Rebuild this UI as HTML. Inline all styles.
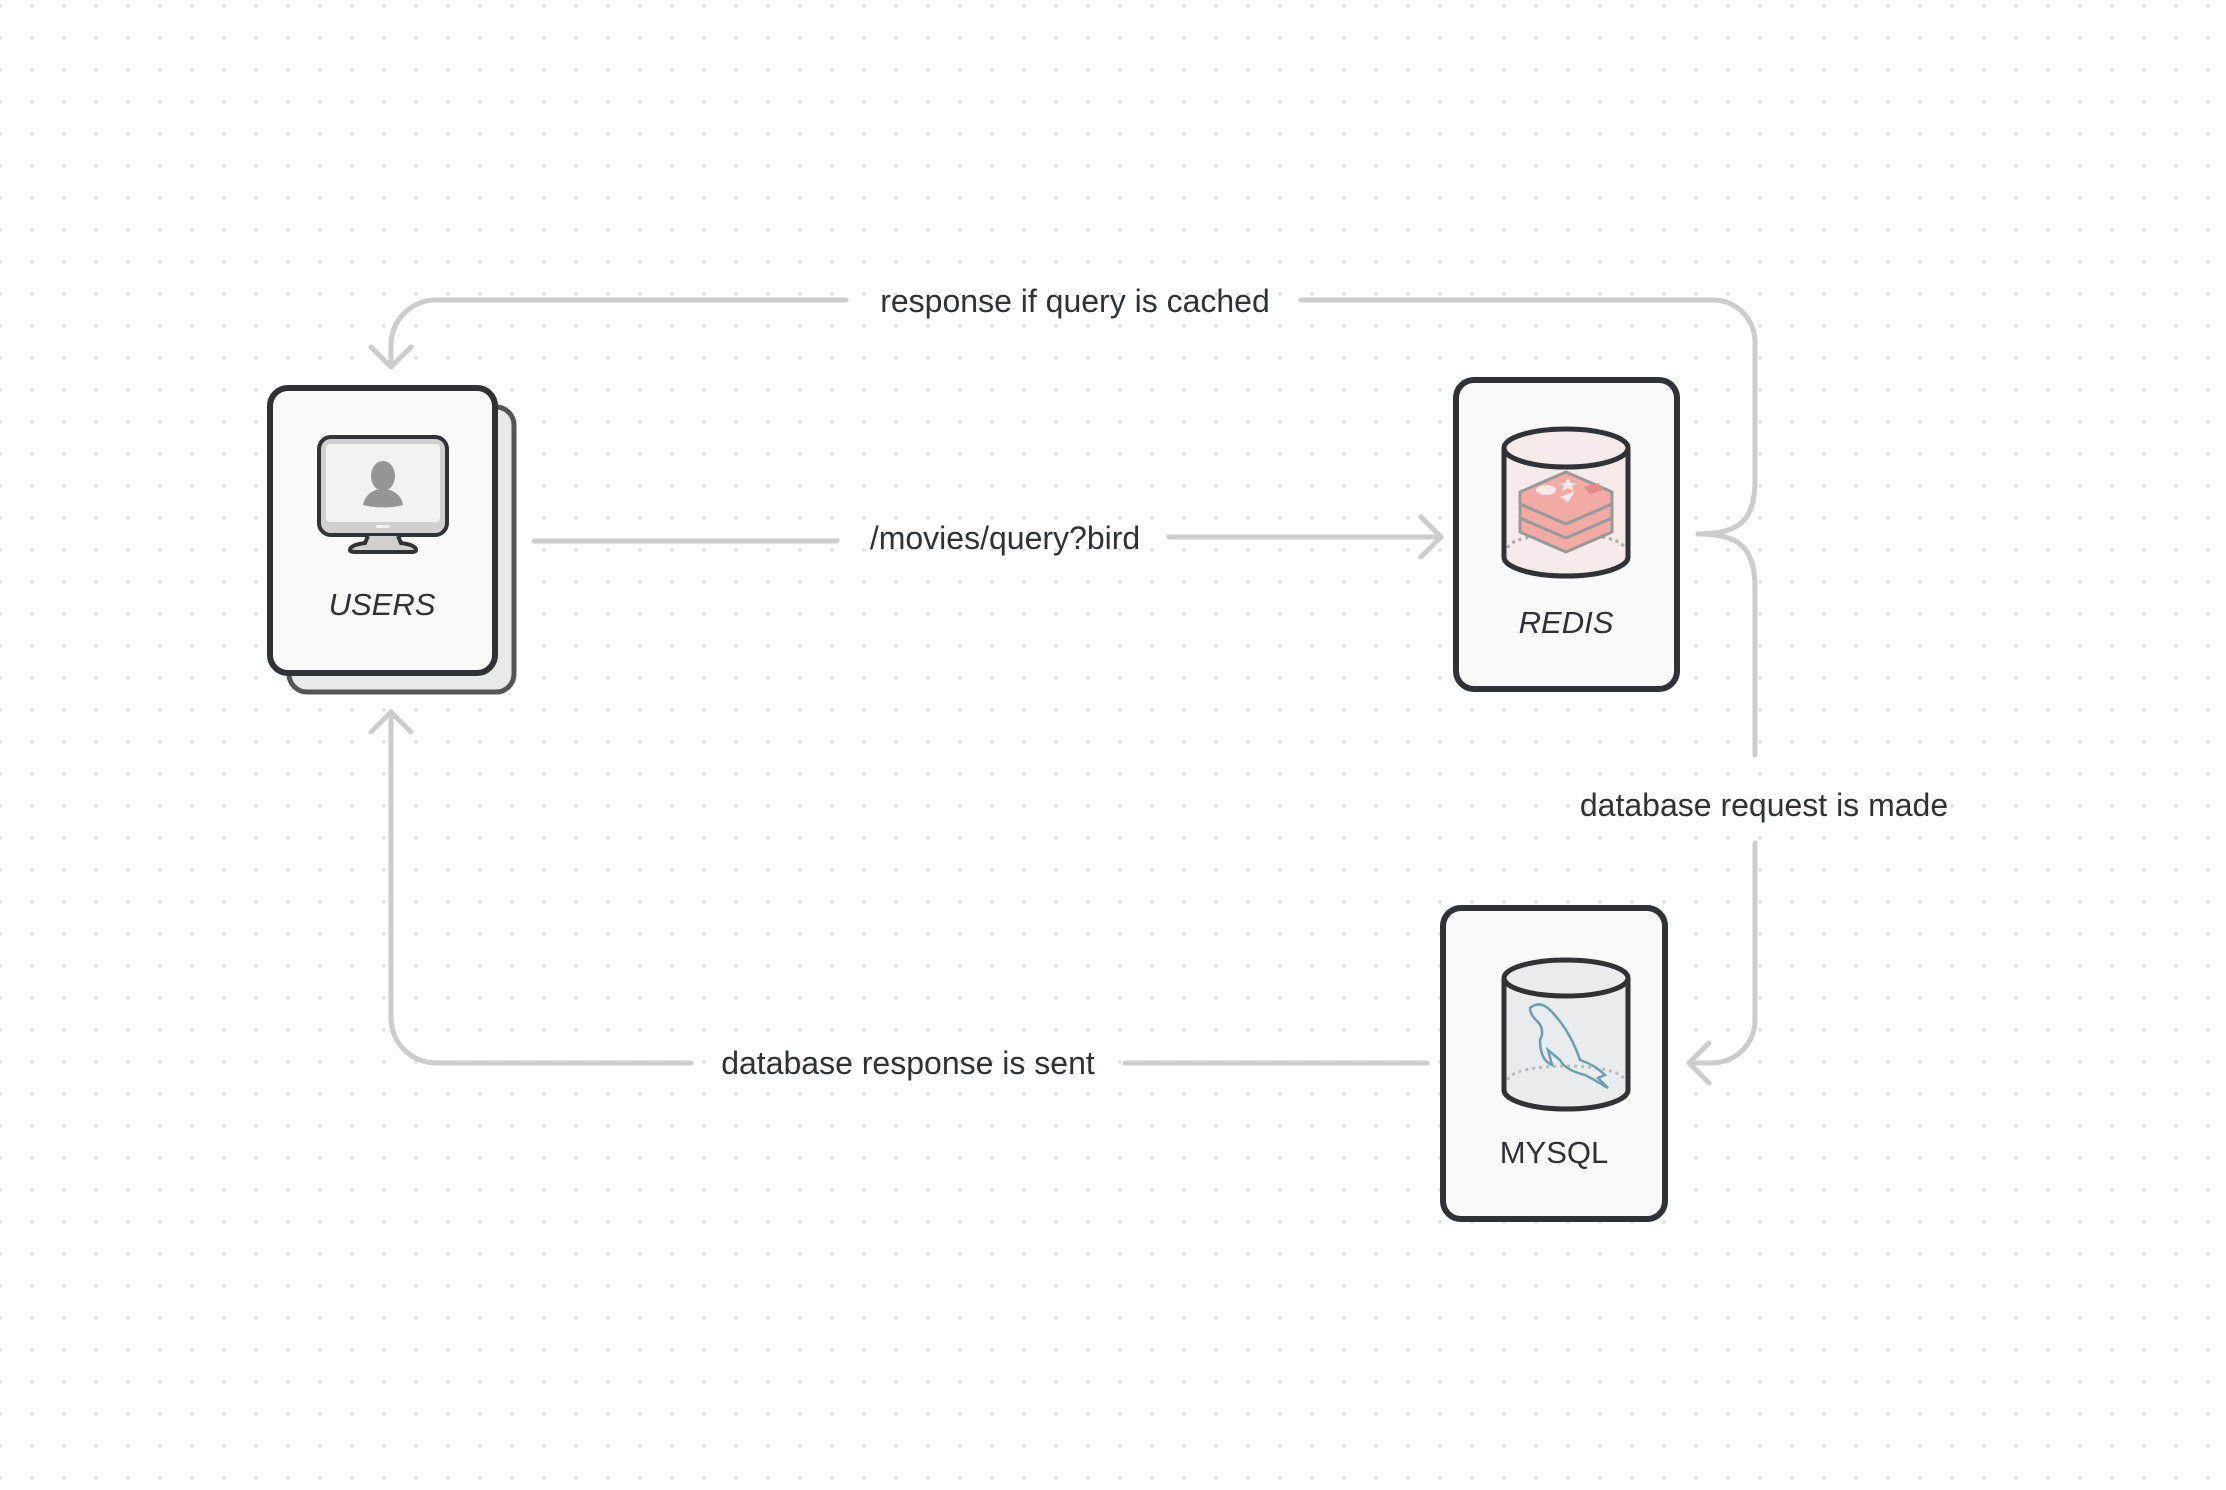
<!DOCTYPE html>
<html><head><meta charset="utf-8"><style>
html,body{margin:0;padding:0;background:#fff;}
svg{display:block;}
text{font-family:"Liberation Sans",sans-serif;fill:#2f3235;}
</style></head><body>
<svg width="2226" height="1490" viewBox="0 0 2226 1490" xmlns="http://www.w3.org/2000/svg">
<defs>
<pattern id="dots" x="0" y="6" width="32" height="32" patternUnits="userSpaceOnUse">
<circle cx="0" cy="0" r="1.6" fill="#dcdcdc"/><circle cx="32" cy="0" r="1.6" fill="#dcdcdc"/><circle cx="0" cy="32" r="1.6" fill="#dcdcdc"/><circle cx="32" cy="32" r="1.6" fill="#dcdcdc"/>
</pattern>
</defs>
<rect width="2226" height="1490" fill="url(#dots)"/>

<g fill="none" stroke="#cccccc" stroke-width="5" stroke-linecap="round" stroke-linejoin="round">
<path d="M1698,534 C1740,534 1755,520 1755,480 V342 A42 42 0 0 0 1713,300 H1301"/>
<path d="M846,300 H436 A45 45 0 0 0 391,345 V367"/>
<path d="M371,347 L391,367 L411,347"/>
<path d="M534,541 H837"/>
<path d="M1169,537 H1441"/>
<path d="M1421,517 L1441,537 L1421,557"/>
<path d="M1698,534 C1740,534 1755,548 1755,588 V755"/>
<path d="M1755,843 V1020 A43 43 0 0 1 1712,1063 H1689"/>
<path d="M1709,1043 L1689,1063 L1709,1083"/>
<path d="M1427,1063 H1125"/>
<path d="M691,1063 H436 A45 45 0 0 1 391,1018 V712"/>
<path d="M371,732 L391,712 L411,732"/>
</g>

<g font-size="32" text-anchor="middle">
<text x="1075" y="312">response if query is cached</text>
<text x="1005" y="549">/movies/query?bird</text>
<text x="1764" y="816">database request is made</text>
<text x="908" y="1074">database response is sent</text>
</g>

<!-- USERS -->
<rect x="289" y="407" width="225" height="285" rx="18" fill="#e9e9e9" stroke="#555" stroke-width="5"/>
<rect x="270" y="388" width="225" height="285" rx="18" fill="#f8f9f9" stroke="#303336" stroke-width="6"/>
<rect x="319" y="437" width="128" height="98" rx="12" fill="#d0d0d0" stroke="#303336" stroke-width="4"/>
<rect x="326" y="444" width="114" height="78" rx="4" fill="#f2f2f2"/>
<path d="M368,536 L365,543 Q350,545 350,550 Q350,552 356,552 H411 Q416,552 416,550 Q416,545 401,543 L398,536" fill="#d0d0d0" stroke="#303336" stroke-width="4"/>
<rect x="376" y="525" width="14" height="3" rx="1.5" fill="#f2f2f2"/>
<ellipse cx="383" cy="476" rx="12" ry="15" fill="#959595"/>
<path d="M363,505 Q365,494 376,490 H390 Q401,494 403,505 Q383,510 363,505Z" fill="#959595"/>
<text x="382" y="615" font-size="31" font-style="italic" text-anchor="middle">USERS</text>

<!-- REDIS -->
<rect x="1456" y="380" width="221" height="309" rx="18" fill="#f8f9f9" stroke="#303336" stroke-width="6"/>
<path d="M1504,448 V557 A62 19 0 0 0 1628,557 V448" fill="#f6eaea" stroke="#303336" stroke-width="5"/>
<path d="M1508,548 A58 14 0 0 1 1624,548" fill="none" stroke="#aaa" stroke-width="3" stroke-dasharray="3 4"/>
<g stroke="#999" stroke-width="3" stroke-linejoin="round">
<path d="M1520,520 L1566,500 L1612,520 V532 L1566,552 L1520,532Z" fill="#f1aaa4"/>
<path d="M1520,506 L1566,486 L1612,506 V518 L1566,538 L1520,518Z" fill="#f1aaa4"/>
<path d="M1520,492 L1566,472 L1612,492 V504 L1566,524 L1520,504Z" fill="#f1aaa4"/>
</g>
<ellipse cx="1546" cy="490" rx="10" ry="5" fill="#fbe8e6"/>
<path d="M1560,497 L1575,491 L1568,502Z" fill="#fbe8e6"/>
<path d="M1568,478 l3,5 l6,0 l-5,3 l2,5 l-6,-3 l-6,3 l2,-5 l-5,-3 l6,0z" fill="#fbe8e6"/>
<path d="M1584,487 L1598,483 L1604,490 L1590,494Z" fill="#e08c86"/>
<ellipse cx="1566" cy="448" rx="62" ry="19" fill="#f6eaea" stroke="#303336" stroke-width="5"/>
<text x="1566" y="633" font-size="31" font-style="italic" text-anchor="middle">REDIS</text>

<!-- MYSQL -->
<rect x="1443" y="908" width="222" height="311" rx="18" fill="#f8f9f9" stroke="#303336" stroke-width="6"/>
<path d="M1504,978 V1090 A62 19 0 0 0 1628,1090 V978" fill="#e8ecee" stroke="#303336" stroke-width="5"/>
<path d="M1508,1080 A58 14 0 0 1 1624,1080" fill="none" stroke="#bbb" stroke-width="3" stroke-dasharray="3 4"/>
<path d="M1530,1008 Q1540,1000 1550,1010 Q1570,1030 1580,1060 Q1595,1065 1605,1075 L1598,1078 L1608,1088 Q1595,1080 1585,1075 Q1565,1070 1560,1060 L1548,1050 L1552,1065 Q1540,1060 1540,1040 Q1545,1030 1538,1022 Q1530,1015 1530,1008Z" fill="none" stroke="#6b9fb0" stroke-width="2.5"/>
<ellipse cx="1566" cy="978" rx="62" ry="18" fill="#e8ecee" stroke="#303336" stroke-width="5"/>
<text x="1554" y="1163" font-size="31" text-anchor="middle">MYSQL</text>
</svg>
</body></html>
